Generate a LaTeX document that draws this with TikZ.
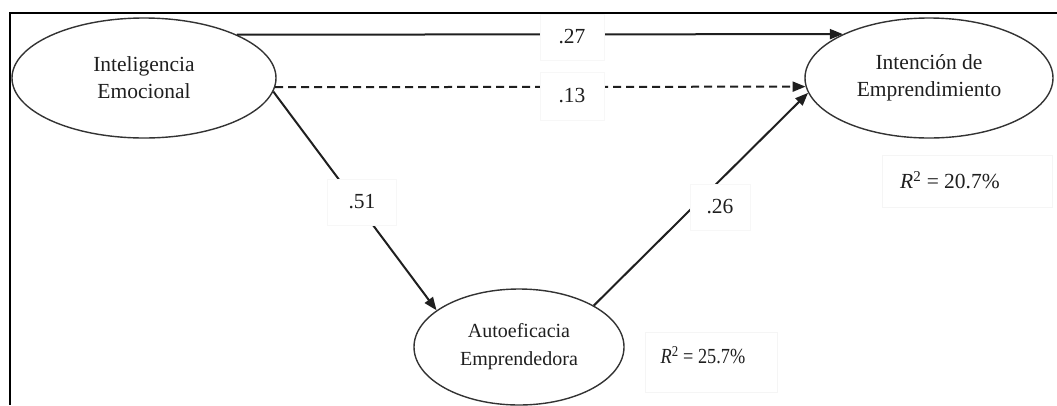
\documentclass[tikz,border=0pt]{standalone}
\usepackage{fontspec}
\setmainfont{Liberation Serif}
\usepackage{graphicx}
\usetikzlibrary{shapes.geometric,arrows.meta}
\begin{document}
\begin{tikzpicture}[x=1pt,y=-1pt,
  latent/.style={draw=black!80, line width=1.4pt, ellipse, inner sep=0pt,
    align=center, text=black!88, font=\fontsize{21.5}{27}\selectfont},
  effect/.style={line width=2pt, draw=black!88,
    -{Triangle[length=13pt,width=10pt]}},
  coef/.style={fill=white, draw=black!3, minimum width=64pt, minimum height=46pt,
    inner sep=0pt, text=black!88, font=\fontsize{21.5}{25}\selectfont},
  rbox/.style={fill=white, draw=black!4, inner sep=0pt},
  rtext/.style={inner sep=0pt, text=black!88, font=\fontsize{21.5}{25}\selectfont},
  border/.style={line width=2.6pt, draw=black}]
\useasboundingbox (0,0) rectangle (1057,405);

% outer frame (top and left edges)
\coordinate (fTR) at (1057,13);
\coordinate (fTL) at (10,13);
\coordinate (fBL) at (10,405);
\draw[border] (fTR) -- (fTL) -- (fBL);

% latent variables
\node[latent, minimum width=264pt, minimum height=120pt] (IE) at (144,78)
  {Inteligencia\\Emocional};
\node[latent, minimum width=248pt, minimum height=120pt] (IdE) at (929,78)
  {Intención de\\Emprendimiento};
\node[latent, minimum width=210pt, minimum height=116pt,
  font=\fontsize{20}{28}\selectfont] (AE) at (519,347)
  {Autoeficacia\\Emprendedora};

% structural paths
\draw[effect] (IE.25) -- (IdE.153.7);
\draw[effect, dash pattern=on 8pt off 5pt] (IE.-4.4) -- (IdE.184.7);
\draw[effect] (IE.-6.8) -- (AE.156.9);
\draw[effect] (AE.29) -- (IdE.187.3);

% path coefficients
\node[coef] (c27) at (572,37) {.27};
\node[coef, minimum height=48pt] (c13) at (572,96) {.13};
\node[coef, minimum width=69pt] (c51) at (362,202) {.51};
\node[coef, minimum width=60pt] (c26) at (720,207) {.26};

% explained variance
\node[rbox, minimum width=170pt, minimum height=52pt] (rbI) at (967,181) {};
\node[rtext] (rI) at (950,180) {\textit{R}\textsuperscript{2} = 20.7\%};
\node[rbox, minimum width=132pt, minimum height=60pt] (rbA) at (711,362) {};
\node[rtext] (rA) at (703,355) {\scalebox{0.85}[1]{\textit{R}\textsuperscript{2} = 25.7\%}};
\end{tikzpicture}
\end{document}
